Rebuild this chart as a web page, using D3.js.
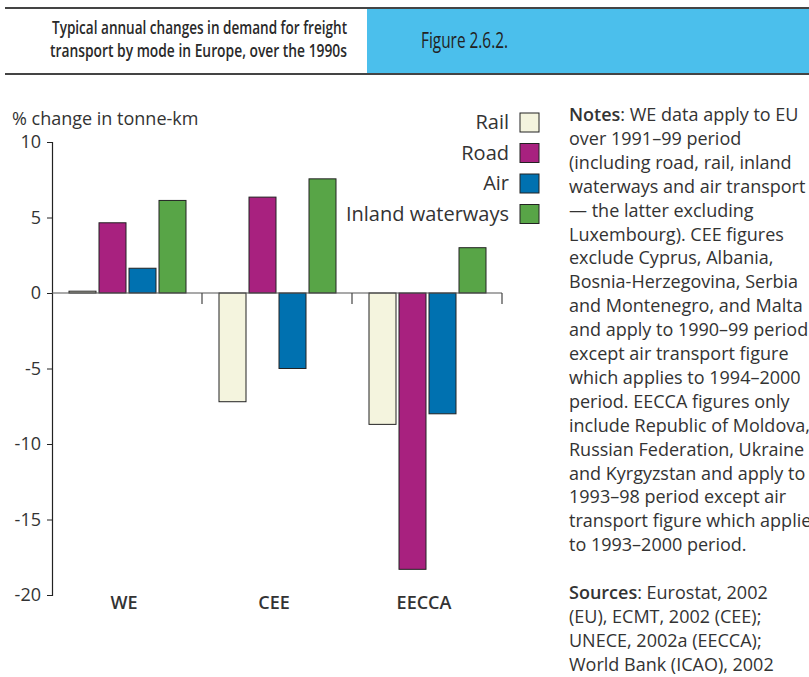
<!DOCTYPE html>
<html>
<head>
<meta charset="utf-8">
<script src="https://cdn.jsdelivr.net/npm/d3@7"></script>
<style>
  body { margin: 0; background: #fff; }
  svg { display: block; }
</style>
</head>
<body>
<div id="chart"></div>
<script>
// data
var regions = ["WE", "CEE", "EECCA"];
var modes = ["Rail", "Road", "Air", "Inland waterways"];
var rail = [0.12, -7.2, -8.7];
var road = [4.65, 6.35, -18.3];
var air = [1.64, -5.0, -8.0];
var inland = [6.13, 7.56, 3.0];
var yTicks = [10, 5, 0, -5, -10, -15, -20];

var titleLines = ["Typical annual changes in demand for freight",
                  "transport by mode in Europe, over the 1990s"];
var figureLabel = "Figure 2.6.2.";
var noteLines = [
  ["Notes", ": WE data apply to EU"],
  ["", "over 1991\u201399 period"],
  ["", "(including road, rail, inland"],
  ["", "waterways and air transport"],
  ["", "\u2014 the latter excluding"],
  ["", "Luxembourg). CEE figures"],
  ["", "exclude Cyprus, Albania,"],
  ["", "Bosnia-Herzegovina, Serbia"],
  ["", "and Montenegro, and Malta"],
  ["", "and apply to 1990\u201399 period"],
  ["", "except air transport figure"],
  ["", "which applies to 1994\u20132000"],
  ["", "period. EECCA figures only"],
  ["", "include Republic of Moldova,"],
  ["", "Russian Federation, Ukraine"],
  ["", "and Kyrgyzstan and apply to"],
  ["", "1993\u201398 period except air"],
  ["", "transport figure which applies"],
  ["", "to 1993\u20132000 period."],
  ["", ""],
  ["Sources", ": Eurostat, 2002"],
  ["", "(EU), ECMT, 2002 (CEE);"],
  ["", "UNECE, 2002a (EECCA);"],
  ["", "World Bank (ICAO), 2002"]
];

var colors = ["#f4f4de", "#a8217f", "#0071b0", "#58a547"];

var W = 809, H = 677;
var textCol = "#333";
var font = "'Open Sans', 'DejaVu Sans', sans-serif";

var svg = d3.select("#chart").append("svg")
  .attr("width", W).attr("height", H)
  .style("font-family", font);

// header
svg.append("rect").attr("x", 367).attr("y", 8).attr("width", W - 367).attr("height", 66)
  .attr("fill", "#4bbfec");
svg.append("line").attr("x1", 5).attr("x2", W).attr("y1", 8).attr("y2", 8)
  .attr("stroke", "#444").attr("stroke-width", 2);
svg.append("line").attr("x1", 5).attr("x2", W).attr("y1", 74).attr("y2", 74)
  .attr("stroke", "#444").attr("stroke-width", 2);

// condensed look: squeeze the glyphs to the reference width
svg.selectAll(".title").data(titleLines).enter().append("text")
  .attr("class", "title")
  .attr("x", 347)
  .attr("y", function(d, i) { return 34 + i * 23; })
  .attr("text-anchor", "end")
  .attr("font-size", 18)
  .attr("font-weight", 600)
  .attr("fill", "#2a2a2a")
  .attr("textLength", function(d, i) { return i == 0 ? 295 : 297; })
  .attr("lengthAdjust", "spacingAndGlyphs")
  .text(function(d) { return d; });

svg.append("text")
  .attr("x", 421).attr("y", 48)
  .attr("font-size", 21)
  .attr("fill", "#222")
  .attr("textLength", 87)
  .attr("lengthAdjust", "spacingAndGlyphs")
  .text(figureLabel);

// scales
var x0 = d3.scaleBand().domain(regions).range([52, 502]);
var x1 = d3.scaleBand().domain(modes).range([17, 134]).paddingInner(0.1);
var y = d3.scaleLinear().domain([-20, 10]).range([595, 142]);

var rows = [];
regions.forEach(function(r, i) {
  rows.push({region: r, mode: "Rail", value: rail[i]});
  rows.push({region: r, mode: "Road", value: road[i]});
  rows.push({region: r, mode: "Air", value: air[i]});
  rows.push({region: r, mode: "Inland waterways", value: inland[i]});
});
var color = d3.scaleOrdinal().domain(modes).range(colors);

// y axis
var yAxis = svg.append("g")
  .attr("transform", "translate(52,0)")
  .call(d3.axisLeft(y).tickValues(yTicks).tickSize(5).tickPadding(6)
    .tickFormat(function(d) { return String(d); }));
yAxis.select(".domain").attr("stroke", "#222").attr("stroke-width", 1.2);
yAxis.selectAll(".tick line").attr("stroke", "#222");
yAxis.selectAll("text")
  .style("font-size", "18px").style("font-family", font).attr("fill", textCol);

svg.append("text")
  .attr("x", 12).attr("y", 125)
  .attr("font-size", 18)
  .attr("fill", textCol)
  .text("% change in tonne-km");

// bars
svg.selectAll(".bar").data(rows).enter().append("rect")
  .attr("class", "bar")
  .attr("x", function(d) { return x0(d.region) + x1(d.mode); })
  .attr("y", function(d) { return y(Math.max(0, d.value)); })
  .attr("width", x1.bandwidth())
  .attr("height", function(d) { return Math.abs(y(d.value) - y(0)); })
  .attr("fill", function(d) { return color(d.mode); })
  .attr("stroke", "#222")
  .attr("stroke-width", 1);

// zero line with category ticks
var xAxis = svg.append("g").attr("transform", "translate(0," + y(0) + ")");
xAxis.append("line").attr("x1", 52).attr("x2", 502).attr("y1", 0).attr("y2", 0)
  .attr("stroke", "#555").attr("stroke-width", 1.2);
xAxis.selectAll(".xt").data(regions).enter().append("line")
  .attr("x1", function(d) { return x0(d) + x0.bandwidth(); })
  .attr("x2", function(d) { return x0(d) + x0.bandwidth(); })
  .attr("y1", 0).attr("y2", 11)
  .attr("stroke", "#444").attr("stroke-width", 1.2);

svg.selectAll(".cat").data(regions).enter().append("text")
  .attr("x", function(d) { return x0(d) + x0.bandwidth() / 2 - 3; })
  .attr("y", 609)
  .attr("text-anchor", "middle")
  .attr("font-size", 18)
  .attr("font-weight", 600)
  .attr("fill", textCol)
  .text(function(d) { return d; });

// legend
var leg = svg.selectAll(".leg").data(modes).enter().append("g")
  .attr("transform", function(d, i) { return "translate(520," + (113 + i * 30.5) + ")"; });
leg.append("rect").attr("width", 19).attr("height", 19)
  .attr("fill", function(d) { return color(d); })
  .attr("stroke", "#222").attr("stroke-width", 1);
leg.append("text")
  .attr("x", -11).attr("y", 16)
  .attr("text-anchor", "end")
  .attr("font-size", 20)
  .attr("fill", textCol)
  .text(function(d) { return d; });

// notes
var notes = svg.append("text")
  .attr("x", 569).attr("y", 121)
  .attr("font-size", 18)
  .attr("fill", textCol);
noteLines.forEach(function(l, i) {
  var t = notes.append("tspan").attr("x", 569).attr("y", 121 + i * 23.9);
  if (l[0]) t.append("tspan").attr("font-weight", 600).text(l[0]);
  t.append("tspan").text(l[1] || "\u00a0");
});
</script>
</body>
</html>
